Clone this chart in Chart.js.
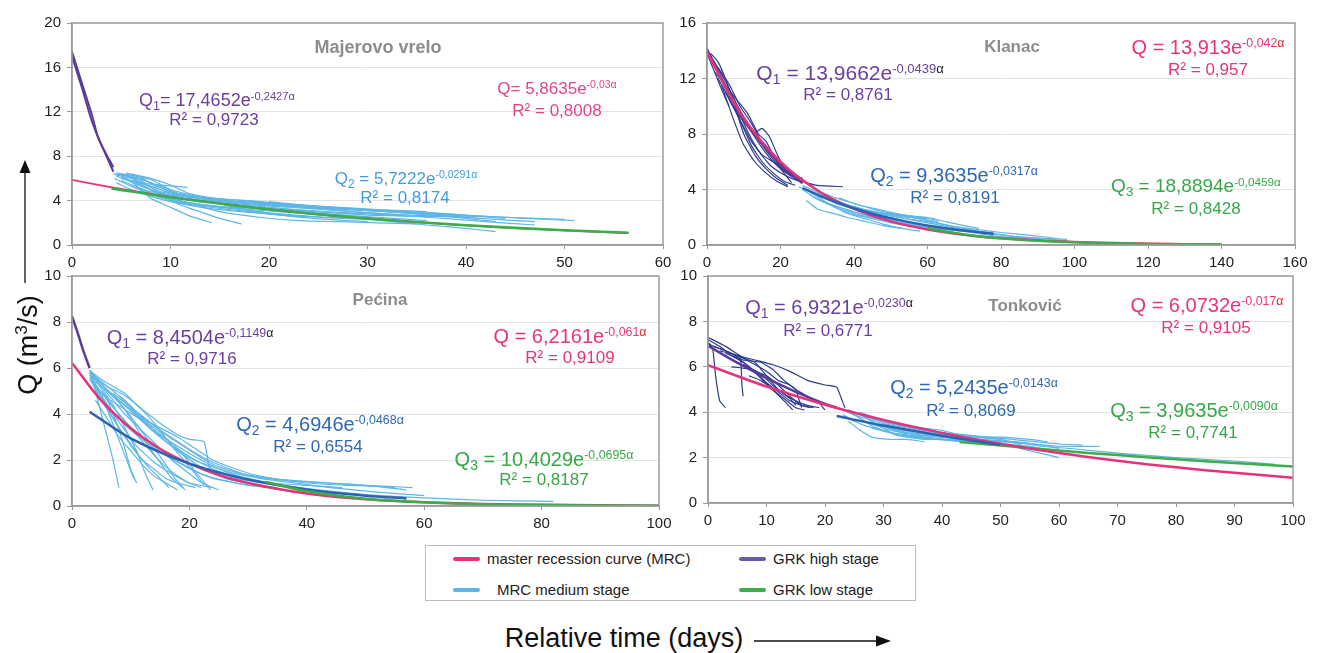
<!DOCTYPE html>
<html>
<head>
<meta charset="utf-8">
<script src="https://cdn.jsdelivr.net/npm/chart.js@4.4.1/dist/chart.umd.min.js"></script>
<style>
    body { margin: 0; background: #fff; width: 1320px; height: 653px; position: relative; overflow: hidden;
           font-family: "Liberation Sans", Arial, sans-serif; }
    .panel { position: absolute; }
    .lbl { position: absolute; transform: translate(-50%, -50%); white-space: nowrap; line-height: 1; }
    .lbl sup { font-size: 0.62em; vertical-align: 0; position: relative; top: -0.55em; }
    .lbl sub { font-size: 0.7em; vertical-align: 0; position: relative; top: 0.3em; }
    .ttl { font-weight: bold; color: #8c8c8c; }
    .legend { position: absolute; left: 425px; top: 545px; width: 491px; height: 56px; border: 1px solid #bdbdbd; box-sizing: border-box; }
    .key { position: absolute; font-size: 15px; color: #222; white-space: nowrap; transform: translateY(-50%); }
    .sw { position: absolute; height: 4px; border-radius: 2px; transform: translateY(-50%); }
    .axis-title { position: absolute; font-size: 27px; color: #111; white-space: nowrap; transform: translate(-50%, -50%); }
</style>
</head>
<body>

<div class="panel" style="left:0;top:0"><canvas id="majerovo" width="690" height="285"></canvas></div>
<div class="panel" style="left:660px;top:0"><canvas id="klanac" width="660" height="285"></canvas></div>
<div class="panel" style="left:0;top:255px"><canvas id="pecina" width="690" height="290"></canvas></div>
<div class="panel" style="left:660px;top:255px"><canvas id="tonkovic" width="660" height="290"></canvas></div>

<div id="labels"></div>

<div class="legend"></div>
<div class="sw" style="left:453px;top:559px;width:27px;background:#e5327a"></div>
<div class="key" style="left:487px;top:558px">master recession curve (MRC)</div>
<div class="sw" style="left:739px;top:559px;width:27px;background:#6a58a8"></div>
<div class="key" style="left:773px;top:558px">GRK high stage</div>
<div class="sw" style="left:453px;top:590px;width:27px;background:#5db6e6"></div>
<div class="key" style="left:497px;top:589px">MRC medium stage</div>
<div class="sw" style="left:739px;top:590px;width:27px;background:#3bad4a"></div>
<div class="key" style="left:773px;top:589px">GRK low stage</div>

<div class="axis-title" style="left:28px;top:345px;transform:translate(-50%,-50%) rotate(-90deg)">Q (m<sup style="font-size:17px">3</sup>/s)</div>
<div class="axis-title" style="left:624px;top:638px">Relative time (days)</div>
<svg style="position:absolute;left:0;top:0" width="1320" height="653">
    <line x1="25" y1="283" x2="25" y2="170" stroke="#111" stroke-width="1.3"/>
    <polygon points="19.5,173 30.5,173 25,160" fill="#111"/>
    <line x1="754" y1="641" x2="878" y2="641" stroke="#111" stroke-width="1.3"/>
    <polygon points="876,635.5 876,646.5 891,641" fill="#111"/>
</svg>

<script>
// Majerovo vrelo: [relative day, Q m3/s]
const majHigh = [
    [[0, 17.4], [1, 14.6], [2, 11.8], [2.6, 9.8], [3.2, 8.6], [4.2, 6.6]],
    [[0, 17.0], [1, 14.2], [2, 11.2], [3, 9.0], [4.2, 7.0]]
];
const majMedium = [
    [[4.2, 6.4], [6, 6.2], [8, 5.6], [10, 4.8], [14, 4.1], [20, 3.7], [26, 3.3], [32, 3.0], [38, 2.8], [41, 2.6]],
    [[4.5, 6.3], [6, 6.0], [8, 5.0], [10, 4.4], [13, 3.9], [18, 3.5], [24, 3.1], [30, 2.8], [36, 2.5], [42, 2.1], [47, 1.8]],
    [[4.5, 6.2], [6, 5.7], [7, 5.0], [8, 4.2], [10, 3.4], [12, 2.6], [14.2, 2.0]],
    [[5, 6.4], [7, 5.8], [9, 4.6], [11, 3.6], [13, 3.0], [15, 2.4], [17.2, 1.9]],
    [[5, 6.0], [7, 5.6], [9, 5.4], [11.7, 5.2]],
    [[5.5, 6.5], [7, 6.1], [9, 5.0], [11, 4.3], [15, 3.9], [20, 3.6], [25, 3.3], [30, 2.9], [33, 2.7]],
    [[6, 6.4], [8, 6.0], [10, 5.4], [12, 4.6], [16, 4.0], [22, 3.5], [28, 3.2], [34, 2.9], [40, 2.4], [43, 2.1]],
    [[4.3, 6.0], [6, 5.3], [8, 4.6], [10, 4.0], [13, 3.6], [17, 3.2], [20, 2.9], [24, 2.6], [28, 2.4]],
    [[5, 5.8], [7, 5.1], [9, 4.3], [12, 3.8], [16, 3.4], [21, 3.2], [26, 2.8], [31, 2.5], [36, 2.2]],
    [[6.5, 5.2], [8, 4.8], [10, 4.5], [14, 4.2], [18, 4.0], [23, 3.6], [28, 3.3], [33, 3.0], [38, 2.7], [44, 2.5], [50, 2.3]],
    [[8, 4.6], [12, 3.8], [18, 3.2], [24, 2.8], [30, 2.3], [36, 1.8], [40, 1.5], [43, 1.2]],
    [[5, 6.2], [7, 5.4], [9, 4.5], [11, 3.8], [14, 3.4], [18, 3.0], [21, 2.7], [24, 2.5]],
    [[7, 6.0], [9, 5.2], [12, 4.2], [16, 3.6], [20, 3.3], [25, 3.0], [30, 2.7], [35, 2.6], [40, 2.5]],
    [[5.5, 6.3], [8, 5.2], [11, 4.0], [15, 3.0], [19, 2.5], [23, 2.2], [27, 2.1], [31, 2.0], [35, 1.9]],
    [[20, 3.9], [26, 3.4], [32, 3.0], [38, 2.6], [43, 2.3], [47, 2.1]],
    [[4.5, 6.5], [6, 6.3], [8, 5.9], [10, 5.0], [13, 4.3], [17, 3.9], [22, 3.6], [27, 3.4], [31, 3.2], [36, 3.0]],
    [[5, 6.1], [7, 5.3], [9, 4.7], [11, 4.2], [15, 3.8], [20, 3.4], [25, 3.0], [29, 2.8]],
    [[6, 5.8], [8, 5.3], [10, 4.7], [13, 4.2], [17, 3.7], [22, 3.4], [27, 3.1], [32, 2.8], [37, 2.6], [41, 2.5]],
    [[4.5, 5.6], [6, 5.0], [8, 4.4], [10, 3.9], [13, 3.4], [16, 3.1], [20, 2.8], [25, 2.5], [30, 2.3]],
    [[9, 4.8], [12, 4.3], [15, 4.0], [19, 3.8], [24, 3.5], [29, 3.2], [34, 2.9], [39, 2.7], [44, 2.4]],
    [[5, 6.3], [7, 5.9], [9, 5.3], [11, 4.6], [13, 4.2], [16, 3.5], [19, 3.0], [22, 2.6], [26, 2.3], [30, 2.1]],
    [[12, 4.4], [16, 4.1], [20, 3.8], [25, 3.5], [30, 3.2], [35, 3.0], [40, 2.7], [46, 2.4], [51, 2.2]]
];
const majMrc = [[0, 5.86], [5, 5.05], [10, 4.34], [20, 3.22], [30, 2.38], [40, 1.77], [50, 1.31], [56.5, 1.08]];
const majLow = [[4, 5.1], [10, 4.3], [20, 3.2], [30, 2.4], [40, 1.78], [50, 1.33], [56.5, 1.1]];

// Klanac
const klaHigh = [
    [[0, 14.2], [3, 12.6], [6, 11.0], [9, 9.5], [12, 8.2], [15, 7.0], [18, 6.0], [21, 5.3], [24, 4.8], [27, 4.5], [30, 4.3], [37, 4.2]],
    [[0, 14.0], [2, 13.2], [5, 11.8], [8, 10.2], [11, 8.8], [14, 7.6], [17, 6.5], [20, 5.6], [23, 5.0], [26, 4.6]],
    [[1, 13.8], [3, 13.2], [5, 12.0], [7, 10.5], [10, 8.0], [13, 6.5], [16, 5.5], [19, 4.8], [22, 4.3]],
    [[0, 13.8], [2, 12.5], [4, 11.2], [6, 10.0]],
    [[2, 12.5], [5, 11.5], [8, 10.5], [11, 9.5], [14, 8.0], [16, 7.5], [18, 6.5], [20, 5.5], [23, 4.5]],
    [[3, 12.0], [6, 10.6], [9, 9.0], [12, 7.5], [15, 6.5], [18, 6.0], [21, 5.5], [24, 5.0], [26, 4.8]],
    [[4, 11.5], [7, 9.2], [10, 7.2], [13, 6.0], [16, 5.2], [19, 4.6], [22, 4.2]],
    [[5, 11.0], [8, 9.6], [11, 8.6], [13, 8.1], [15, 8.4], [17, 7.8], [19, 6.6], [21, 5.6], [23, 5.1], [25, 4.9]],
    [[6, 10.5], [9, 9.0], [12, 7.2], [15, 6.0], [18, 5.2], [21, 4.6], [24, 4.3]],
    [[8, 10.0], [11, 8.2], [14, 6.8], [17, 5.8], [20, 5.2], [23, 4.8], [26, 4.5]],
    [[3, 12.8], [6, 11.6], [9, 10.0], [12, 8.8], [15, 7.4], [18, 6.4], [21, 5.6], [24, 5.0]]
];
const klaMedium = [
    [[25, 4.2], [30, 3.6], [35, 3.0], [40, 2.6], [45, 2.3], [50, 2.1], [55, 2.0], [60, 1.9]],
    [[26, 4.0], [30, 3.3], [35, 2.8], [40, 2.4], [45, 2.0], [50, 1.7], [55, 1.5], [60, 1.3], [66, 1.1], [72, 1.0], [78, 0.9]],
    [[28, 3.8], [33, 3.0], [38, 2.3], [43, 1.9], [48, 1.5], [53, 1.2], [58, 1.0]],
    [[30, 3.9], [35, 3.4], [40, 3.0], [45, 2.6], [50, 2.3], [55, 2.1], [60, 2.0]],
    [[27, 3.2], [30, 2.6], [34, 2.3], [38, 2.0], [43, 1.7], [48, 1.4], [53, 1.2]],
    [[32, 3.6], [37, 3.0], [42, 2.6], [47, 2.3], [52, 2.0], [57, 1.8], [62, 1.6], [68, 1.3], [74, 1.1], [80, 0.9], [88, 0.7], [96, 0.45]],
    [[35, 3.1], [40, 2.6], [45, 2.2], [50, 1.8], [55, 1.5], [60, 1.3], [65, 1.1], [70, 1.0]],
    [[36, 3.4], [41, 2.9], [46, 2.6], [51, 2.3], [56, 2.0], [61, 1.7], [66, 1.4], [72, 1.1], [78, 0.8], [84, 0.6], [90, 0.5], [98, 0.4]],
    [[40, 2.8], [45, 2.3], [50, 1.9], [55, 1.6], [60, 1.2], [65, 0.9], [70, 0.7]],
    [[30, 3.5], [35, 3.1], [40, 2.7], [45, 2.4], [50, 2.2], [55, 2.0], [60, 1.8], [63, 1.7]],
    [[45, 2.4], [52, 2.0], [60, 1.6], [68, 1.2], [76, 0.9], [84, 0.6], [92, 0.45], [98, 0.3]],
    [[26, 4.3], [30, 3.8], [34, 3.3], [38, 2.9], [42, 2.6], [46, 2.4], [50, 2.2], [54, 2.1], [58, 2.0], [62, 1.9]],
    [[28, 3.6], [32, 3.1], [36, 2.7], [40, 2.3], [44, 2.0], [48, 1.8], [52, 1.6], [56, 1.4], [60, 1.2], [64, 1.0]],
    [[30, 3.3], [35, 2.7], [40, 2.2], [45, 1.9], [50, 1.6], [55, 1.4], [60, 1.25], [66, 1.1], [72, 0.9], [80, 0.6], [88, 0.45]],
    [[33, 3.3], [38, 2.8], [43, 2.5], [48, 2.3], [53, 2.2], [58, 2.0], [63, 1.8], [68, 1.5], [74, 1.2]]
];
const klaHighFit = [[0, 14.0], [10, 9.0], [20, 5.8], [26, 4.45]];
const klaMrc = [[0, 13.9], [10, 9.15], [20, 6.0], [30, 3.95], [40, 2.6], [50, 1.7], [60, 1.12], [70, 0.74], [80, 0.48], [100, 0.21], [120, 0.09], [140, 0.04]];
const klaMediumFit = [[26, 4.1], [35, 3.1], [45, 2.25], [55, 1.65], [65, 1.2], [78, 0.8]];
const klaLow = [[60, 1.2], [70, 0.76], [80, 0.48], [90, 0.3], [100, 0.19], [120, 0.08], [140, 0.03]];

// Pećina
const pecHigh = [[0, 8.25], [1, 7.5], [2, 6.7], [3, 6.0]];
const pecMedium = [
    [[3, 5.9], [4, 5.0], [5, 4.0], [6, 3.0], [7, 2.0], [8, 0.8]],
    [[3, 5.7], [4.5, 5.0], [6, 4.2], [7.5, 3.2], [9, 2.2], [10.5, 1.2]],
    [[3, 5.8], [5, 5.1], [7, 4.4], [9, 3.4], [11, 2.4], [12.5, 1.4], [13.8, 0.7]],
    [[3, 5.9], [5, 5.3], [7, 4.8], [9, 4.2], [11, 3.4], [13, 2.6], [15, 1.9], [17, 1.2], [19.3, 0.7]],
    [[3.2, 5.8], [5, 5.4], [7, 5.0], [9, 4.6], [11, 4.1], [13, 3.6], [15, 3.2], [17, 2.7], [19, 2.2], [21, 1.5], [23.6, 0.7]],
    [[3.5, 5.6], [6, 5.2], [9, 4.8], [12, 4.2], [15, 3.6], [18, 3.1], [20, 2.9], [22.5, 2.8], [23.5, 1.6], [26, 1.2], [30, 1.0]],
    [[3, 5.5], [5, 4.8], [7, 4.0], [9, 3.3], [11, 2.6], [14, 1.9], [17, 1.4], [20, 1.0], [24, 0.8]],
    [[4, 5.2], [6, 4.4], [8, 3.8], [10, 3.3], [13, 2.7], [16, 2.2], [19, 1.8], [22, 1.4], [26, 1.1], [30, 0.9], [35, 0.8]],
    [[3.5, 5.4], [6, 4.7], [9, 4.2], [12, 3.7], [15, 3.1], [18, 2.5], [21, 2.0], [25, 1.5], [29, 1.2], [34, 1.0], [40, 0.9], [46, 0.8]],
    [[5, 5.3], [8, 4.6], [11, 3.9], [14, 3.2], [17, 2.6], [20, 2.1], [24, 1.7], [28, 1.4], [33, 1.2], [38, 1.1], [44, 1.0], [50, 0.9], [55, 0.8]],
    [[4, 4.6], [6, 3.8], [8, 3.0], [10, 2.4], [12, 1.8], [14, 1.3], [16, 1.0], [18, 0.7]],
    [[6, 5.0], [9, 4.4], [12, 3.8], [15, 3.4], [18, 3.0], [21, 2.5], [24, 2.0], [28, 1.6], [32, 1.3], [37, 1.1], [43, 1.0], [50, 0.9], [57, 0.7]],
    [[8, 4.8], [11, 4.0], [14, 3.3], [18, 2.6], [22, 2.0], [26, 1.5], [30, 1.2], [36, 0.9], [42, 0.7], [50, 0.5], [60, 0.35], [70, 0.25], [82, 0.2]],
    [[4, 5.0], [6, 4.3], [8, 3.4], [10, 2.7], [12, 2.0], [14, 1.6], [16, 1.2], [18, 1.0], [21, 0.8]],
    [[10, 4.2], [13, 3.5], [16, 2.8], [19, 2.2], [22, 1.7], [26, 1.3], [30, 1.1], [35, 0.9], [40, 0.7], [45, 0.5], [48, 0.3]],
    [[3, 5.8], [4, 5.3], [5, 4.9], [6, 4.6], [7, 4.0], [8, 3.3], [9, 2.5], [10, 1.6], [11, 1.0]],
    [[3, 5.9], [5, 5.5], [7, 5.2], [9, 4.9], [11, 4.4], [13, 3.9], [15, 3.3], [17, 2.6], [19, 2.0], [21, 1.4], [22.5, 0.9]],
    [[3.5, 5.7], [5, 5.2], [7, 4.6], [9, 4.0], [11, 3.5], [13, 3.0], [15, 2.5], [17, 2.0], [19, 1.6], [21, 1.2], [23, 0.9], [25, 0.7]],
    [[4, 5.4], [6, 5.0], [8, 4.5], [10, 3.9], [12, 3.2], [14, 2.5], [16, 1.8], [17.5, 1.2], [19, 0.8]],
    [[5, 5.0], [7, 4.3], [9, 3.7], [11, 3.2], [13, 2.8], [15, 2.4], [18, 1.9], [21, 1.5], [24, 1.2], [28, 1.0], [33, 0.8], [38, 0.6]],
    [[6, 4.6], [8, 4.0], [10, 3.4], [12, 2.8], [14, 2.2], [16, 1.7], [18, 1.3], [20, 1.0], [22, 0.8]],
    [[3, 5.6], [5, 4.6], [7, 3.8], [9, 3.0], [11, 2.3], [13, 1.7], [15, 1.2], [16.5, 0.8]],
    [[7, 4.9], [10, 4.3], [13, 3.7], [16, 3.1], [19, 2.6], [22, 2.1], [25, 1.7], [29, 1.4], [34, 1.2], [40, 1.0], [47, 0.9], [54, 0.85], [58, 0.8]],
    [[12, 3.9], [15, 3.3], [18, 2.8], [21, 2.3], [24, 1.9], [28, 1.5], [32, 1.2], [38, 1.0], [44, 0.8], [52, 0.6], [60, 0.45]]
];
const pecMrc = [[0, 6.22], [5, 4.58], [10, 3.38], [15, 2.49], [20, 1.84], [25, 1.35], [30, 1.0], [40, 0.54], [50, 0.29], [60, 0.16], [70, 0.09], [80, 0.05], [100, 0.014]];
const pecMediumFit = [[3, 4.1], [10, 2.94], [20, 1.84], [30, 1.15], [40, 0.72], [50, 0.45], [57, 0.33]];
const pecLow = [[33, 1.05], [40, 0.64], [50, 0.32], [60, 0.16], [70, 0.08], [80, 0.04], [100, 0.01]];

// Tonković
const tonHigh = [
    [[0, 7.1], [0.8, 6.8], [1.3, 5.6], [2, 4.5], [3, 4.2]],
    [[0, 7.0], [2, 6.8], [4, 6.6], [5.5, 6.4], [5.8, 5.2], [6, 4.7]],
    [[0, 7.2], [2, 6.9], [4, 6.5], [6, 6.2], [8, 5.8], [10, 5.3], [12, 4.9], [14, 4.5], [16, 4.3], [17.5, 4.2]],
    [[0, 7.3], [3, 6.9], [6, 6.4], [8, 6.2], [10, 5.6], [12, 5.0], [14, 4.6], [15, 4.3]],
    [[1, 6.9], [4, 6.6], [7, 6.0], [9, 5.5], [11, 5.0], [13, 4.6], [15, 4.2], [16.5, 4.1]],
    [[2, 6.7], [5, 6.5], [8, 6.1], [10, 5.8], [12, 5.4], [14, 5.2], [15, 5.0], [15.5, 4.6], [16, 4.2]],
    [[3, 6.6], [6, 6.3], [9, 6.2], [11, 5.9], [13, 5.4], [15, 5.0], [17, 4.7], [19, 4.4], [20, 4.1]],
    [[5, 6.5], [8, 6.3], [11, 6.1], [14, 5.8], [17, 5.4], [20, 5.2], [22, 5.1], [22.8, 4.6], [23.4, 4.2]],
    [[4, 6.0], [7, 5.9], [10, 5.6], [12, 5.2], [14, 4.7], [16, 4.3], [18, 4.2]],
    [[6, 6.1], [9, 5.7], [11, 5.2], [13, 4.8], [15, 4.5], [17, 4.3], [19, 4.2]],
    [[7, 5.6], [9, 5.4], [11, 5.0], [13, 4.5], [14.5, 4.1]]
];
const tonMedium = [
    [[23, 4.1], [26, 3.8], [30, 3.5], [34, 3.3], [38, 3.1], [42, 2.9], [46, 2.8], [50, 2.7], [55, 2.6], [60, 2.5], [67, 2.5]],
    [[24, 4.0], [27, 3.6], [30, 3.3], [33, 3.1], [36, 3.0], [40, 2.9], [45, 2.8], [50, 2.6], [55, 2.3], [60, 2.0]],
    [[25, 3.9], [28, 3.4], [31, 3.1], [35, 2.9], [39, 2.8], [44, 2.7], [49, 2.6], [53, 2.5]],
    [[26, 4.0], [29, 3.7], [32, 3.5], [35, 3.3], [39, 3.1], [43, 2.9], [47, 2.8], [52, 2.7], [57, 2.5], [62, 2.4], [70, 2.2], [80, 2.0], [90, 1.85], [97, 1.7]],
    [[24, 3.6], [26, 3.2], [28, 2.9], [31, 2.8], [34, 2.8], [37, 2.7]],
    [[27, 3.8], [30, 3.6], [34, 3.4], [38, 3.2], [42, 3.0], [46, 2.9], [50, 2.8]],
    [[25, 3.7], [28, 3.5], [31, 3.3], [34, 3.1], [37, 2.9], [40, 2.8], [44, 2.7], [48, 2.6]],
    [[29, 3.5], [32, 3.2], [36, 3.0], [40, 2.9], [44, 2.8], [48, 2.7], [52, 2.7], [56, 2.6], [60, 2.4]],
    [[32, 3.3], [35, 3.1], [38, 3.0], [42, 2.9], [46, 2.9], [50, 2.8], [53, 2.6], [55, 2.4]],
    [[23, 3.9], [25, 3.6], [27, 3.4], [30, 3.2], [33, 3.0], [36, 2.9], [40, 2.8], [44, 2.8], [48, 2.7]],
    [[26, 3.9], [28, 3.7], [31, 3.5], [34, 3.4], [37, 3.3], [40, 3.2], [43, 3.0], [46, 2.9], [50, 2.9], [55, 2.8], [58, 2.7]],
    [[24, 4.1], [26, 3.9], [28, 3.6], [30, 3.3], [32, 3.0], [34, 2.9], [37, 2.8], [40, 2.8]],
    [[28, 3.3], [31, 3.1], [34, 3.0], [37, 2.9], [41, 2.8], [45, 2.7], [50, 2.6], [55, 2.5], [59, 2.3]],
    [[30, 3.6], [33, 3.4], [36, 3.3], [40, 3.1], [44, 3.0], [48, 2.9], [52, 2.8], [56, 2.7], [60, 2.6], [64, 2.55]]
];
const tonHighFit = [[0, 6.93], [5, 6.18], [10, 5.5], [15, 4.9], [20, 4.37], [22, 4.2]];
const tonMrc = [[0, 6.07], [10, 5.13], [20, 4.33], [30, 3.66], [40, 3.09], [50, 2.61], [60, 2.2], [70, 1.86], [80, 1.57], [90, 1.33], [100, 1.11]];
const tonMediumFit = [[22, 3.83], [30, 3.41], [40, 2.96], [50, 2.56]];
const tonLow = [[43, 2.69], [50, 2.53], [60, 2.31], [70, 2.11], [80, 1.93], [90, 1.76], [100, 1.61]];

const COLORS = {
    mrc: '#e5327a',
    high: '#5b3c98',
    highRaw: '#2d3a8e',
    medium: '#5db6e6',
    mediumFit: '#2b63b0',
    low: '#3bad4a'
};

Chart.defaults.font.family = '"Liberation Sans", Arial, sans-serif';
Chart.defaults.font.size = 15;
Chart.defaults.color = '#222';

function series(points, color, width, order, tension) {
    return {
        data: points.map(function (p) { return { x: p[0], y: p[1] }; }),
        borderColor: color,
        backgroundColor: color,
        borderWidth: width,
        showLine: true,
        pointRadius: 0,
        tension: tension,
        fill: false,
        order: order
    };
}

function bundle(lines, color, width, order) {
    return lines.map(function (l) { return series(l, color, width, order, 0.15); });
}

var framePlugin = {
    id: 'frame',
    afterDatasetsDraw: function (chart) {
        var a = chart.chartArea;
        var ctx = chart.ctx;
        ctx.save();
        ctx.strokeStyle = '#9c9c9c';
        ctx.lineWidth = 1.5;
        ctx.strokeRect(a.left, a.top, a.right - a.left, a.bottom - a.top);
        ctx.restore();
    }
};

function makePanel(id, box, xMax, xStep, yMax, yStep, datasets) {
    return new Chart(document.getElementById(id), {
        type: 'scatter',
        data: { datasets: datasets },
        plugins: [framePlugin],
        options: {
            responsive: false,
            animation: false,
            events: [],
            layout: { padding: { left: 0, top: box.padTop, right: box.padRight, bottom: 0 } },
            plugins: { legend: { display: false }, tooltip: { enabled: false } },
            scales: {
                x: {
                    type: 'linear', min: 0, max: xMax,
                    ticks: { stepSize: xStep, padding: 5, maxRotation: 0 },
                    grid: { drawOnChartArea: false, tickLength: 4, tickColor: '#999' },
                    border: { color: '#999', width: 1.5 },
                    afterFit: function (s) { s.height = box.xH; }
                },
                y: {
                    type: 'linear', min: 0, max: yMax,
                    ticks: { stepSize: yStep, padding: 6 },
                    grid: { color: '#e4e4e4', tickLength: 5, tickColor: '#999' },
                    border: { color: '#999', width: 1.5 },
                    afterFit: function (s) { s.width = box.yW; }
                }
            }
        }
    });
}

makePanel('majerovo', { padTop: 23, padRight: 27, yW: 72, xH: 40 }, 60, 10, 20, 4, [].concat(
    bundle(majMedium, COLORS.medium, 1.2, 5),
    bundle(majHigh, COLORS.high, 2, 4),
    [series(majMrc, COLORS.mrc, 1.8, 2, 0.3),
     series(majLow, COLORS.low, 2.6, 0, 0.3)]
));

makePanel('klanac', { padTop: 23, padRight: 25, yW: 47, xH: 40 }, 160, 20, 16, 4, [].concat(
    bundle(klaMedium, COLORS.medium, 1.2, 6),
    bundle(klaHigh, COLORS.highRaw, 1.2, 5),
    [series(klaHighFit, COLORS.high, 2.5, 3, 0.3),
     series(klaMrc, COLORS.mrc, 2.5, 2, 0.3),
     series(klaMediumFit, COLORS.mediumFit, 2.5, 1, 0.3),
     series(klaLow, COLORS.low, 2.5, 0, 0.3)]
));

makePanel('pecina', { padTop: 21, padRight: 31, yW: 72, xH: 39 }, 100, 20, 10, 2, [].concat(
    bundle(pecMedium, COLORS.medium, 1.2, 5),
    [series(pecHigh, COLORS.high, 2.5, 4, 0.3),
     series(pecMrc, COLORS.mrc, 2.5, 2, 0.3),
     series(pecMediumFit, COLORS.mediumFit, 2.5, 1, 0.3),
     series(pecLow, COLORS.low, 2.5, 0, 0.3)]
));

makePanel('tonkovic', { padTop: 21, padRight: 27, yW: 48, xH: 42 }, 100, 10, 10, 2, [].concat(
    bundle(tonMedium, COLORS.medium, 1.2, 6),
    bundle(tonHigh, COLORS.highRaw, 1.2, 5),
    [series(tonHighFit, COLORS.high, 2.5, 3, 0.3),
     series(tonLow, COLORS.low, 2.5, 2, 0.3),
     series(tonMrc, COLORS.mrc, 2.5, 1, 0.3),
     series(tonMediumFit, COLORS.mediumFit, 2.5, 0, 0.3)]
));

// equation and title labels: [centre x, centre y, html, colour, font size, bold]
var DARK = '<span style="color:#222">α</span>';
var RED = '<span style="color:#e8262e">α</span>';
var labelSpecs = [
    [378, 47, 'Majerovo vrelo', null, 18, true],
    [217, 100, 'Q<sub>1</sub>= 17,4652e<sup>-0,2427α</sup>', '#6b3fa0', 18],
    [214, 119, 'R² = 0,9723', '#6b3fa0', 17],
    [557, 88, 'Q= 5,8635e<sup>-0,03α</sup>', '#e0458a', 17],
    [557, 110, 'R² = 0,8008', '#e0458a', 17],
    [406, 178, 'Q<sub>2</sub> = 5,7222e<sup>-0,0291α</sup>', '#419ddf', 17],
    [405, 197, 'R² = 0,8174', '#419ddf', 17],

    [1012, 46, 'Klanac', null, 17, true],
    [850, 72, 'Q<sub>1</sub> = 13,9662e<sup>-0,0439' + DARK + '</sup>', '#6b3fa0', 21],
    [848, 94, 'R² = 0,8761', '#6b3fa0', 17],
    [1208, 47, 'Q = 13,913e<sup>-0,042' + RED + '</sup>', '#e8347c', 20],
    [1208, 69, 'R² = 0,957', '#e8347c', 17],
    [954, 175, 'Q<sub>2</sub> = 9,3635e<sup>-0,0317α</sup>', '#2f68b3', 20],
    [955, 197, 'R² = 0,8191', '#2f68b3', 17],
    [1196, 185, 'Q<sub>3</sub> = 18,8894e<sup>-0,0459α</sup>', '#36a847', 19],
    [1196, 208, 'R² = 0,8428', '#36a847', 17],

    [380, 299, 'Pećina', null, 17, true],
    [190, 337, 'Q<sub>1</sub> = 8,4504e<sup>-0,1149' + DARK + '</sup>', '#6b3fa0', 20],
    [192, 358, 'R² = 0,9716', '#6b3fa0', 17],
    [570, 336, 'Q = 6,2161e<sup>-0,061' + RED + '</sup>', '#e8347c', 20],
    [570, 357, 'R² = 0,9109', '#e8347c', 17],
    [320, 424, 'Q<sub>2</sub> = 4,6946e<sup>-0,0468α</sup>', '#2f68b3', 20],
    [318, 446, 'R² = 0,6554', '#2f68b3', 17],
    [544, 459, 'Q<sub>3</sub> = 10,4029e<sup>-0,0695α</sup>', '#36a847', 20],
    [544, 479, 'R² = 0,8187', '#36a847', 17],

    [1025, 305, 'Tonković', null, 17, true],
    [829, 307, 'Q<sub>1</sub> = 6,9321e<sup>-0,0230' + DARK + '</sup>', '#6b3fa0', 20],
    [828, 330, 'R² = 0,6771', '#6b3fa0', 17],
    [1207, 305, 'Q = 6,0732e<sup>-0,017' + RED + '</sup>', '#e8347c', 20],
    [1206, 327, 'R² = 0,9105', '#e8347c', 17],
    [974, 387, 'Q<sub>2</sub> = 5,2435e<sup>-0,0143α</sup>', '#2f68b3', 20],
    [971, 410, 'R² = 0,8069', '#2f68b3', 17],
    [1194, 410, 'Q<sub>3</sub> = 3,9635e<sup>-0,0090α</sup>', '#36a847', 20],
    [1193, 432, 'R² = 0,7741', '#36a847', 17]
];

var holder = document.getElementById('labels');
labelSpecs.forEach(function (s) {
    var d = document.createElement('div');
    d.className = 'lbl' + (s[5] ? ' ttl' : '');
    d.style.left = s[0] + 'px';
    d.style.top = s[1] + 'px';
    d.style.fontSize = s[4] + 'px';
    if (s[3]) {
        d.style.color = s[3];
    }
    d.innerHTML = s[2];
    holder.appendChild(d);
});
</script>
</body>
</html>
